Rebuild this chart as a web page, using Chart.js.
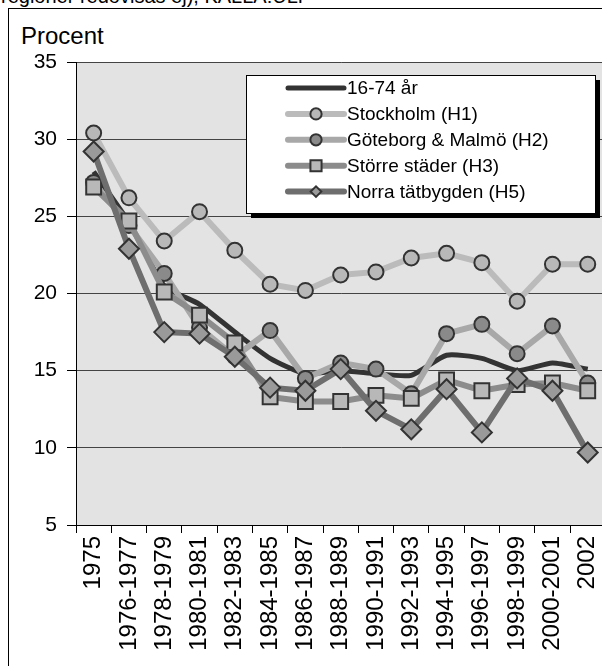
<!DOCTYPE html>
<html lang="sv">
<head>
    <meta charset="UTF-8">
    <title>Procent</title>
    <script src="https://cdn.jsdelivr.net/npm/chart.js@4"></script>
    <style>
        body { margin: 0; width: 602px; height: 666px; overflow: hidden; background: #fff; position: relative;
               font-family: "Liberation Sans", Arial, sans-serif; color: #000; }
        .top-note { position: absolute; left: 1px; top: -14px; font-size: 20px; line-height: 20px; white-space: nowrap; }
        .frame { position: absolute; left: 8px; top: 8px; width: 700px; height: 700px; border: 1px solid #000; }
        .ytitle { position: absolute; left: 21px; top: 24px; font-size: 24px; line-height: 24px; }
        #wrap { position: absolute; left: 0; top: 0; width: 620px; height: 666px; }
    </style>
</head>
<body>
    <div class="top-note">regioner redovisas ej), KÄLLA:ULF</div>
    <div class="frame"></div>
    <div class="ytitle">Procent</div>
    <div id="wrap"><canvas id="chart"></canvas></div>

    <script>
        // Data
        const categories = ['1975', '1976-1977', '1978-1979', '1980-1981', '1982-1983', '1984-1985', '1986-1987',
            '1988-1989', '1990-1991', '1992-1993', '1994-1995', '1996-1997', '1998-1999', '2000-2001', '2002'];
        const seriesNames = ['16-74 år', 'Stockholm (H1)', 'Göteborg & Malmö (H2)', 'Större städer (H3)', 'Norra tätbygden (H5)'];
        const total16_74  = [27.9, 24.6, 20.5, 19.3, 17.5, 15.8, 14.8, 15.0, 14.8, 14.7, 16.0, 15.8, 15.0, 15.5, 15.1];
        const stockholm   = [30.4, 26.2, 23.4, 25.3, 22.8, 20.6, 20.2, 21.2, 21.4, 22.3, 22.6, 22.0, 19.5, 21.9, 21.9];
        const gbgMalmo    = [27.2, 24.4, 21.3, 17.8, 15.9, 17.6, 14.5, 15.5, 15.1, 13.5, 17.4, 18.0, 16.1, 17.9, 14.2];
        const storreStader = [26.9, 24.7, 20.1, 18.6, 16.8, 13.3, 13.0, 13.0, 13.4, 13.2, 14.4, 13.7, 14.1, 14.2, 13.7];
        const norraTat    = [29.2, 22.9, 17.5, 17.4, 15.9, 13.9, 13.7, 15.1, 12.4, 11.2, 13.8, 11.0, 14.5, 13.7, 9.7];
        const yTicks = [5, 10, 15, 20, 25, 30, 35];

        // Grå bakgrund i diagramytan
        const plotBg = {
            id: 'plotBg',
            beforeDraw(chart) {
                const a = chart.chartArea;
                const ctx = chart.ctx;
                ctx.save();
                ctx.fillStyle = '#e3e3e3';
                ctx.fillRect(a.left, a.top, a.right - a.left, a.bottom - a.top);
                ctx.restore();
            }
        };

        function drawMarker(ctx, style, r, x, y) {
            ctx.beginPath();
            if (style === 'circle') {
                ctx.arc(x, y, r, 0, Math.PI * 2);
            } else if (style === 'rect') {
                const s = r * Math.SQRT1_2;
                ctx.rect(x - s, y - s, 2 * s, 2 * s);
            } else if (style === 'rectRot') {
                const s = r * Math.SQRT1_2;
                ctx.moveTo(x - s, y); ctx.lineTo(x, y + s); ctx.lineTo(x + s, y); ctx.lineTo(x, y - s); ctx.closePath();
            }
            ctx.fill();
            ctx.stroke();
        }

        // Förklaring med skugga
        const legendBox = {
            id: 'legendBox',
            afterDraw(chart) {
                const ctx = chart.ctx;
                const x = 246, y = 75, w = 349, h = 138;
                ctx.save();
                ctx.fillStyle = '#000';
                ctx.fillRect(x + 5, y + 5, w, h);
                ctx.fillStyle = '#fff';
                ctx.fillRect(x, y, w, h);
                ctx.strokeStyle = '#000';
                ctx.lineWidth = 1;
                ctx.strokeRect(x + 0.5, y + 0.5, w, h);
                ctx.font = '19px "Liberation Sans", Arial, sans-serif';
                ctx.textBaseline = 'middle';
                chart.data.datasets.forEach((ds, i) => {
                    const cy = y + 13 + i * 25.9;
                    ctx.strokeStyle = ds.borderColor;
                    ctx.lineWidth = ds.borderWidth;
                    ctx.lineCap = 'round';
                    ctx.beginPath();
                    ctx.moveTo(x + 42, cy);
                    ctx.lineTo(x + 98, cy);
                    ctx.stroke();
                    if (ds.pointRadius > 0) {
                        ctx.fillStyle = ds.pointBackgroundColor;
                        ctx.strokeStyle = ds.pointBorderColor;
                        ctx.lineWidth = ds.pointBorderWidth;
                        drawMarker(ctx, ds.pointStyle, ds.pointRadius * 0.75, x + 70, cy);
                    }
                    ctx.fillStyle = '#000';
                    ctx.fillText(ds.label, x + 101, cy + 1);
                });
                ctx.restore();
            }
        };

        const ctx = document.getElementById('chart').getContext('2d');
        new Chart(ctx, {
            type: 'line',
            data: {
                labels: categories,
                datasets: [
                    { label: seriesNames[0], data: total16_74, borderColor: '#333333', borderWidth: 5,
                      pointRadius: 0, tension: 0.2, order: 5 },
                    { label: seriesNames[1], data: stockholm, borderColor: '#bbbbbb', borderWidth: 6,
                      pointStyle: 'circle', pointRadius: 7.5, pointBackgroundColor: '#b8b8b8',
                      pointBorderColor: '#333333', pointBorderWidth: 2, order: 4 },
                    { label: seriesNames[2], data: gbgMalmo, borderColor: '#a8a8a8', borderWidth: 6,
                      pointStyle: 'circle', pointRadius: 7.5, pointBackgroundColor: '#8a8a8a',
                      pointBorderColor: '#333333', pointBorderWidth: 2, order: 3 },
                    { label: seriesNames[3], data: storreStader, borderColor: '#8c8c8c', borderWidth: 6,
                      pointStyle: 'rect', pointRadius: 10.5, pointBackgroundColor: '#b8b8b8',
                      pointBorderColor: '#333333', pointBorderWidth: 2, order: 2 },
                    { label: seriesNames[4], data: norraTat, borderColor: '#6e6e6e', borderWidth: 6,
                      pointStyle: 'rectRot', pointRadius: 10, pointBackgroundColor: '#9a9a9a',
                      pointBorderColor: '#333333', pointBorderWidth: 2, order: 1 }
                ]
            },
            options: {
                responsive: true,
                maintainAspectRatio: false,
                animation: false,
                events: [],
                layout: { padding: { top: 62, right: 14, left: 0, bottom: 0 } },
                plugins: { legend: { display: false }, tooltip: { enabled: false } },
                scales: {
                    x: {
                        type: 'category',
                        offset: true,
                        grid: { offset: true, drawOnChartArea: false, drawTicks: true, tickLength: 8, color: '#000' },
                        border: { display: true, color: '#000', width: 1 },
                        ticks: { autoSkip: false, maxRotation: 90, minRotation: 90, padding: 3, color: '#000',
                                 font: { family: '"Liberation Sans", Arial, sans-serif', size: 24 } },
                        afterFit(scale) { scale.height = 141; }
                    },
                    y: {
                        min: 5,
                        max: 35,
                        afterBuildTicks(scale) { scale.ticks = yTicks.map(v => ({ value: v })); },
                        grid: { color: '#444', lineWidth: 1, drawTicks: true, tickLength: 9, tickColor: '#000' },
                        border: { display: true, color: '#000', width: 1 },
                        ticks: { padding: 10, color: '#000',
                                 font: { family: '"Liberation Sans", Arial, sans-serif', size: 21 } },
                        afterFit(scale) { scale.width = 76; }
                    }
                }
            },
            plugins: [plotBg, legendBox]
        });
    </script>
</body>
</html>
